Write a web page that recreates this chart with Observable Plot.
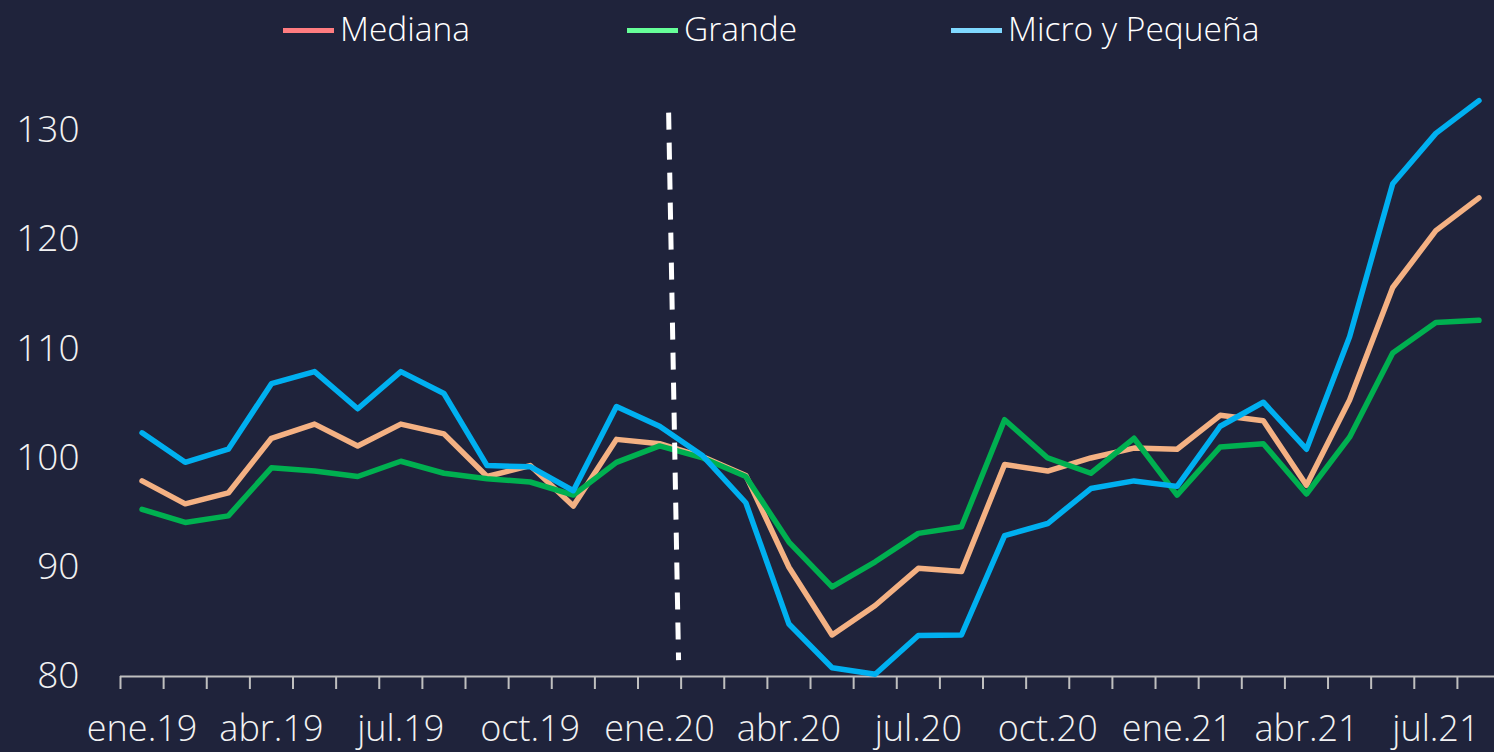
<!DOCTYPE html>
<html><head><meta charset="utf-8">
<script src="https://cdn.jsdelivr.net/npm/d3@7"></script>
<script src="https://cdn.jsdelivr.net/npm/@observablehq/plot@0.6"></script>
<style>
body{margin:0;background:#1f233b;width:1494px;height:752px;overflow:hidden;font-family:"Open Sans",sans-serif;}
#legend{height:55px;position:relative;}
.item{position:absolute;top:0;height:55px;display:flex;align-items:center;color:#ffffff;font-size:33.5px;font-weight:300;white-space:nowrap;}
.sw{width:51px;height:5px;margin-right:6px;margin-top:5px;}
</style></head><body>
<div id="legend"></div><div id="chart"></div>
<script>
const months = ["ene.19","feb.19","mar.19","abr.19","may.19","jun.19","jul.19","ago.19","sep.19","oct.19","nov.19","dic.19","ene.20","feb.20","mar.20","abr.20","may.20","jun.20","jul.20","ago.20","sep.20","oct.20","nov.20","dic.20","ene.21","feb.21","mar.21","abr.21","may.21","jun.21","jul.21","ago.21"];
const mediana = [97.9, 95.8, 96.8, 101.8, 103.1, 101.1, 103.1, 102.2, 98.3, 99.3, 95.6, 101.7, 101.3, 100.1, 98.4, 90.0, 83.8, 86.5, 89.9, 89.6, 99.4, 98.8, 100.0, 100.9, 100.8, 103.9, 103.4, 97.5, 105.3, 115.6, 120.8, 123.8];
const grande = [95.3, 94.1, 94.7, 99.1, 98.8, 98.3, 99.7, 98.6, 98.1, 97.8, 96.6, 99.6, 101.1, 100.0, 98.3, 92.3, 88.2, 90.5, 93.1, 93.7, 103.5, 100.0, 98.6, 101.8, 96.6, 101.0, 101.3, 96.7, 101.9, 109.6, 112.4, 112.6];
const micro = [102.3, 99.6, 100.8, 106.8, 107.9, 104.5, 107.9, 105.9, 99.3, 99.2, 97.0, 104.7, 102.9, 100.2, 95.9, 84.8, 80.8, 80.2, 83.75, 83.8, 92.9, 94.0, 97.2, 97.9, 97.4, 102.9, 105.1, 100.8, 111.1, 125.1, 129.7, 132.7];
const seriesNames = ["Mediana", "Grande", "Micro y Pequeña"];
const lineColors = ["#f4b183", "#00b050", "#00b0f0"];
const legendColors = ["#ff7c80", "#66ff99", "#7fd8ff"];
const yTicks = [80, 90, 100, 110, 120, 130];
const labelEvery = 3;
// vertical dashed marker (month index, value)
const marker = [{x1: 12.21, y1: 131.6, x2: 12.44, y2: 81.5}];

// legend
const legendLeft = [283, 627, 951];
const leg = document.getElementById("legend");
seriesNames.forEach((n, k) => {
  const it = document.createElement("div");
  it.className = "item";
  it.style.left = legendLeft[k] + "px";
  const sw = document.createElement("span");
  sw.className = "sw";
  sw.style.background = legendColors[k];
  const tx = document.createElement("span");
  tx.textContent = n;
  it.appendChild(sw); it.appendChild(tx);
  leg.appendChild(it);
});

const allValues = [mediana, grande, micro];
const rows = allValues.flatMap((vals, k) => vals.map((v, i) => ({i, v, s: seriesNames[k]})));
const boundaries = d3.range(months.length + 1).map(i => i - 0.5);
const labelIdx = d3.range(0, months.length, labelEvery);

const chart = Plot.plot({
  width: 1494, height: 697,
  marginLeft: 120, marginRight: 0, marginTop: 20, marginBottom: 76,
  style: {background: "transparent", color: "#f2f2f2", fontFamily: "Open Sans, sans-serif", fontWeight: 300, overflow: "visible"},
  x: {domain: [-0.5, 31.36]},
  y: {domain: [80, 135]},
  color: {domain: seriesNames, range: lineColors},
  marks: [
    Plot.ruleY([80], {stroke: "#bfbfbf", strokeWidth: 2}),
    Plot.axisX(boundaries, {tickSize: 13, tickFormat: () => "", stroke: "#bfbfbf", strokeWidth: 2}),
    Plot.axisX(labelIdx, {tickSize: 0, tickPadding: 39, tickFormat: i => months[i], fontSize: 36, fill: "#f2f2f2"}),
    Plot.axisY(yTicks, {tickSize: 0, tickPadding: 41, fontSize: 37, fill: "#f2f2f2"}),
    Plot.line(rows, {x: "i", y: "v", z: "s", stroke: "s", strokeWidth: 5.5}),
    Plot.link(marker, {x1: "x1", y1: "y1", x2: "x2", y2: "y2", stroke: "white", strokeWidth: 5, strokeDasharray: "17,13", strokeLinecap: "butt"})
  ]
});
document.getElementById("chart").appendChild(chart);
</script></body></html>
